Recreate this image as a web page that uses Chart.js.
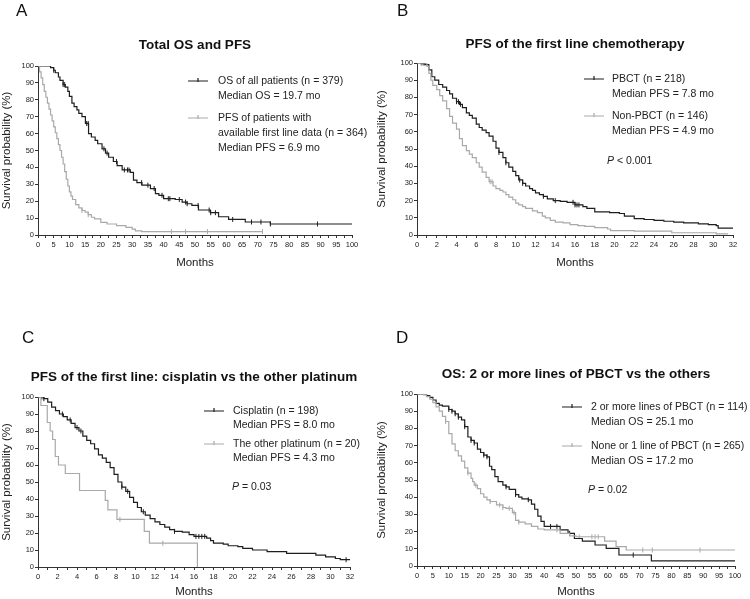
<!DOCTYPE html>
<html>
<head>
<meta charset="utf-8">
<script src="https://cdn.jsdelivr.net/npm/chart.js@4.4.1/dist/chart.umd.min.js"></script>
<style>
html,body{margin:0;padding:0;background:#fff;}
#wrap{position:relative;width:750px;height:599px;overflow:hidden;}
canvas{position:absolute;}
</style>
</head>
<body>
<div id="wrap">
  <canvas id="cA" width="375" height="300" style="left:0;top:0"></canvas>
  <canvas id="cB" width="375" height="300" style="left:375px;top:0"></canvas>
  <canvas id="cC" width="375" height="299" style="left:0;top:300px"></canvas>
  <canvas id="cD" width="375" height="299" style="left:375px;top:300px"></canvas>
</div>
<script>
"use strict"
// Kaplan-Meier curves: time (months) -> survival (%)

// A: total OS and PFS
var osAllT = [0, 4, 5, 5.5, 6.5, 7, 8, 8.7, 9.5, 10, 10.8, 11.5, 12.4, 13, 14, 15.1, 16.1, 17, 18.2, 19, 20.4, 21.5, 22.5, 24, 25.2, 26.8, 29.4, 30.4, 31.5, 33.1, 35.8, 37.4, 38.5, 40, 43.7, 45.9, 47.5, 49, 51.1, 54.9, 57.5, 60.7, 66, 74, 100];
var osAllS = [100, 99, 97.5, 96, 93.5, 91.5, 89, 87.5, 85, 82, 78, 76, 74, 72, 70, 66, 60, 58, 56, 54, 51, 48.5, 46, 43.5, 41, 38.5, 37, 32.5, 31, 29.5, 27.5, 24.5, 23.5, 21.5, 21, 19.5, 18.5, 17.5, 14.8, 13.2, 10.8, 9.2, 7.7, 6.5, 6.5];
var osAllCens = [5, 8, 8.5, 15.5, 16, 21, 22, 25, 27.5, 28.5, 29, 33, 35, 37, 39.5, 41.5, 42, 45, 47, 47.5, 51, 54.5, 55, 56.5, 62, 68, 71, 74, 89];
var pfsAllT = [0, 0.5, 1, 1.5, 2, 2.5, 3, 3.5, 4, 4.5, 5, 5.5, 6, 6.5, 7, 7.5, 8, 8.5, 9, 9.5, 10, 10.5, 11, 12, 13, 14, 15, 16, 17, 18, 20, 22, 25, 28, 30, 31, 33, 71.5];
var pfsAllS = [100, 96.5, 93, 89, 85, 81.5, 78, 74.5, 71, 67.5, 64, 60.5, 57, 53.5, 50, 46, 42, 37.5, 33, 29, 25.5, 23, 21, 18, 16, 14.5, 13.5, 12, 10.5, 9.5, 7.5, 6.5, 5.5, 4.5, 3.5, 2.5, 2, 2];
var pfsAllCens = [14, 16, 42.5, 47, 54, 71.5];

// B: PFS of first line, PBCT vs non-PBCT
var pbctT = [0, 0.8, 1.2, 1.5, 1.8, 2.2, 2.6, 3, 3.3, 3.6, 4, 4.3, 4.6, 5, 5.3, 5.6, 6, 6.3, 6.6, 7, 7.3, 7.7, 8, 8.3, 8.7, 9, 9.3, 9.7, 10, 10.3, 10.7, 11, 11.4, 11.7, 12, 12.4, 12.8, 13.2, 13.8, 14.5, 15.2, 16, 16.8, 17.2, 18, 19.5, 20.5, 21, 22, 23, 24, 25, 26, 27, 28.5, 29.5, 30.3, 30.5, 32];
var pbctS = [100, 99, 96, 92, 90, 87.5, 86, 84, 82, 79.5, 77.5, 76, 74, 71, 69.5, 68, 64.5, 62.5, 61, 59.5, 57.5, 54.5, 50.5, 48, 45, 42, 39.5, 37, 34.5, 32, 30, 28.5, 27, 26, 24.5, 23.5, 22.5, 21, 20, 19.5, 19, 17.5, 16.5, 15.5, 13.5, 13, 12.5, 11, 9.5, 9, 8.5, 8, 7.5, 7, 6.5, 6, 5.5, 4, 4];
var pbctCens = [0.5, 0.7, 4, 4.2, 4.4, 8.3, 9, 10.4, 10.7, 12.8, 14, 15.8, 16, 16.2, 16.4];
var nonPbctT = [0, 1, 1.2, 1.4, 1.6, 2, 2.3, 2.6, 3, 3.3, 3.6, 4, 4.3, 4.6, 5, 5.3, 5.6, 6, 6.3, 6.6, 7, 7.3, 7.7, 8, 8.4, 8.7, 9, 9.3, 9.7, 10, 10.3, 10.7, 11, 11.7, 12.2, 12.7, 13, 13.5, 14, 14.8, 15.5, 16.3, 17, 18, 19.3, 19.6, 22, 25.8, 30.3, 31.5];
var nonPbctS = [100, 98, 94, 90, 87, 84.5, 81, 78, 73.5, 69, 65, 61.5, 56, 52, 49, 47, 45, 42, 39.5, 36.5, 33.5, 31, 28.5, 27, 26, 25, 23.5, 22, 20.5, 18.5, 17.5, 16.5, 15.5, 14, 13, 11, 10, 8.5, 7.5, 7, 6, 5.4, 5, 4.3, 3.5, 2.5, 2.2, 1.3, 0.6, 0.6];
var nonPbctCens = [0.4, 7.4, 7.6];

// C: cisplatin vs the other platinum
var cisT = [0, 0.6, 1, 1.4, 1.8, 2.2, 2.6, 3, 3.4, 3.8, 4.2, 4.6, 5, 5.4, 5.8, 6.2, 6.6, 7, 7.4, 7.8, 8.2, 8.6, 9, 9.4, 9.8, 10.2, 10.6, 11, 11.5, 12, 12.5, 13, 13.5, 14, 14.8, 15.5, 16, 17.3, 17.7, 18, 19, 19.5, 20.5, 21, 22, 23.5, 25.5, 28.5, 29.5, 30.5, 31, 32];
var cisS = [100, 99, 97, 94, 92, 90, 88.5, 86.5, 84.5, 82, 80, 77, 74.5, 72.5, 69.5, 66, 64, 61.5, 58.5, 54.5, 50, 47, 44.5, 41, 38, 35, 32.5, 30.5, 28.5, 26.5, 25, 23.5, 22, 21, 20.5, 19, 18, 17, 15.5, 14, 13.5, 12.5, 12, 11, 10, 9, 8, 7, 6, 5, 4.3, 4.3];
var cisCens = [0.4, 0.6, 2.5, 3.3, 4, 4.4, 8.6, 9.2, 10.8, 14, 16.2, 16.5, 16.8, 17.1, 31.6];
var otherPtT = [0, 0.3, 0.95, 1.25, 1.5, 1.77, 2.1, 2.8, 4.26, 6.9, 7.17, 8.1, 10.9, 11.43, 16.35];
var otherPtS = [100, 95, 85, 80, 75, 65, 60, 55, 45, 39.2, 33.6, 28, 21, 14, 0];
var otherPtCens = [8.4, 12.8];

// D: OS, 2 or more lines of PBCT vs the others
var twoPlusT = [0, 3, 4, 5, 6, 7, 8, 10, 11, 12, 13, 14, 15, 16, 17, 18, 19, 20, 21, 22, 22.8, 23.5, 24.5, 25.5, 27, 28, 29, 31, 32, 33, 35, 36, 37, 38, 39, 40, 45, 47.5, 49.5, 52, 56, 59.5, 63.5, 73.7, 100];
var twoPlusS = [100, 99, 98, 96.5, 94.5, 93.5, 93, 91, 90, 88.5, 86.5, 85, 81, 75, 73, 71.5, 68, 66, 64.5, 63.5, 58, 56, 52, 49, 47, 46, 44.5, 41.5, 40, 39, 38.5, 36, 33, 29, 26, 23, 21, 19, 16, 14.5, 12.2, 10.3, 6.4, 3, 3];
var twoPlusCens = [10, 11, 12, 13, 15, 17, 18, 21, 22, 28, 31, 35, 42, 44, 48, 68];
var noneOneT = [0, 2, 3, 4, 5, 6, 7, 8, 9, 10, 11, 12, 13, 14, 15, 16, 17, 17.5, 18, 19, 20, 21, 22, 23, 25, 27, 28, 30, 31, 32, 34, 36, 38, 40, 45, 48, 50, 59, 62.6, 65.8, 100];
var noneOneS = [100, 99.5, 98.5, 97, 95, 92.5, 90, 87, 84, 77, 71, 67, 64, 61, 57, 54, 51, 49, 47, 45, 42, 40, 38.5, 37.5, 35.5, 34, 33.5, 31, 26.5, 25.5, 24.5, 23, 21.5, 21, 19, 17.5, 17, 14.5, 11.3, 9.3, 9.3];
var noneOneCens = [9, 16, 18.5, 23, 26, 27, 29, 30.5, 32, 44, 51, 55, 56, 57, 71, 74, 89];

var BLACK = "#1e1e1e", GRAY = "#a9a9a9", AXIS = "#333";
var FONT = "'Liberation Sans', Arial, Helvetica, sans-serif";

function toPts(ts, ss) { return ts.map(function(t, i) { return {x: t, y: ss[i]}; }); }
function survAt(ts, ss, t) {//value of step curve at t
  var v = ss[0];
  for (var i = 0; i < ts.length; i++) { if (ts[i] <= t) v = ss[i]; }
  return v;
}
function censPts(ts, ss, cs) { return cs.map(function(t) { return {x: t, y: survAt(ts, ss, t)}; }); }

function curve(ts, ss, color) {
  return {data: toPts(ts, ss), stepped: "before", borderColor: color, borderWidth: 1.2, pointRadius: 0, fill: false};
}
function marks(ts, ss, cs, color) {
  return {data: censPts(ts, ss, cs), showLine: false, pointStyle: "line", pointRotation: 90,
    pointRadius: 2.5, pointBorderColor: color, pointBorderWidth: 1, borderColor: color};
}

// draws panel letter, title, legend and p value
var deco = {
  id: "deco",
  afterDraw: function(chart, args, o) {
    var ctx = chart.ctx, a = chart.chartArea;
    ctx.save();
    ctx.textBaseline = "middle";
    ctx.fillStyle = "#111";
    ctx.textAlign = "left";
    ctx.font = "17px " + FONT;
    ctx.fillText(o.letter, o.letterX, o.letterY);
    ctx.textAlign = "center";
    ctx.font = "bold 13.5px " + FONT;
    ctx.fillText(o.title, (a.left + a.right) / 2, o.titleY);
    ctx.textAlign = "left";
    ctx.font = "10.5px " + FONT;
    o.items.forEach(function(it) {
      ctx.strokeStyle = it.color;
      ctx.lineWidth = 1.2;
      ctx.beginPath();
      ctx.moveTo(o.sampleX, it.y); ctx.lineTo(o.sampleX + 20, it.y);
      ctx.moveTo(o.sampleX + 10, it.y - 3); ctx.lineTo(o.sampleX + 10, it.y + 1);
      ctx.stroke();
      ctx.fillStyle = "#222";
      it.lines.forEach(function(s, k) { ctx.fillText(s, o.textX, it.y + k * o.gap); });
    });
    if (o.p) {
      ctx.font = "italic 10.5px " + FONT;
      ctx.fillText("P", o.pX, o.pY);
      var w = ctx.measureText("P").width;
      ctx.font = "10.5px " + FONT;
      ctx.fillText(o.p, o.pX + w, o.pY);
    }
    ctx.restore();
  }
};

function kmChart(id, datasets, ax, dec) {
  var tickFont = {family: FONT, size: 7.5};
  var titleFont = {family: FONT, size: 11.5};
  return new Chart(document.getElementById(id), {
    type: "line",
    data: {datasets: datasets},
    options: {
      responsive: false,
      animation: false,
      layout: {padding: {left: 0, top: ax.top, right: ax.right, bottom: ax.bottom}},
      plugins: {legend: {display: false}, tooltip: {enabled: false}, deco: dec},
      scales: {
        x: {
          type: "linear", min: 0, max: ax.xmax,
          border: {color: AXIS, width: 1},
          grid: {drawOnChartArea: false, tickLength: 3, color: AXIS},
          ticks: {stepSize: ax.minor, autoSkip: false, maxRotation: 0, padding: 2, color: "#222", font: tickFont,
            callback: function(v) { return v % ax.major === 0 ? v : ""; }},
          title: {display: true, text: "Months", color: "#222", font: titleFont, padding: 0},
          afterFit: function(s) { s.height = ax.xh; }
        },
        y: {
          min: 0, max: 100,
          border: {color: AXIS, width: 1},
          grid: {drawOnChartArea: false, tickLength: 3, color: AXIS},
          ticks: {stepSize: 10, padding: 1, color: "#222", font: tickFont},
          title: {display: true, text: "Survival probability (%)", color: "#222", font: titleFont, padding: 0},
          afterFit: function(s) { s.width = ax.yw; }
        }
      }
    },
    plugins: [deco]
  });
}

kmChart("cA", [
  curve(pfsAllT, pfsAllS, GRAY), curve(osAllT, osAllS, BLACK),
  marks(pfsAllT, pfsAllS, pfsAllCens, GRAY), marks(osAllT, osAllS, osAllCens, BLACK)
], {xmax: 100, minor: 2.5, major: 5, top: 66, right: 23, bottom: 30, xh: 35, yw: 38}, {
  letter: "A", letterX: 16, letterY: 11, title: "Total OS and PFS", titleY: 45,
  sampleX: 188, textX: 218, gap: 15,
  items: [
    {color: BLACK, y: 81, lines: ["OS of all patients (n = 379)", "Median OS = 19.7 mo"]},
    {color: GRAY, y: 118, lines: ["PFS of patients with", "available first line data (n = 364)", "Median PFS = 6.9 mo"]}
  ]
});

kmChart("cB", [
  curve(nonPbctT, nonPbctS, GRAY), curve(pbctT, pbctS, BLACK),
  marks(nonPbctT, nonPbctS, nonPbctCens, GRAY), marks(pbctT, pbctS, pbctCens, BLACK)
], {xmax: 32, minor: 1, major: 2, top: 63, right: 17, bottom: 30, xh: 35, yw: 42}, {
  letter: "B", letterX: 22, letterY: 11, title: "PFS of the first line chemotherapy", titleY: 44,
  sampleX: 209, textX: 237, gap: 15,
  items: [
    {color: BLACK, y: 79, lines: ["PBCT (n = 218)", "Median PFS = 7.8 mo"]},
    {color: GRAY, y: 116, lines: ["Non-PBCT (n = 146)", "Median PFS = 4.9 mo"]}
  ],
  p: " < 0.001", pX: 232, pY: 161
});

kmChart("cC", [
  curve(otherPtT, otherPtS, GRAY), curve(cisT, cisS, BLACK),
  marks(otherPtT, otherPtS, otherPtCens, GRAY), marks(cisT, cisS, cisCens, BLACK)
], {xmax: 32, minor: 1, major: 2, top: 97, right: 25, bottom: 0, xh: 32, yw: 38}, {
  letter: "C", letterX: 22, letterY: 38, title: "PFS of the first line: cisplatin vs the other platinum", titleY: 77,
  sampleX: 204, textX: 233, gap: 14.5,
  items: [
    {color: BLACK, y: 111, lines: ["Cisplatin (n = 198)", "Median PFS = 8.0 mo"]},
    {color: GRAY, y: 144, lines: ["The other platinum (n = 20)", "Median PFS = 4.3 mo"]}
  ],
  p: " = 0.03", pX: 232, pY: 187
});

kmChart("cD", [
  curve(noneOneT, noneOneS, GRAY), curve(twoPlusT, twoPlusS, BLACK),
  marks(noneOneT, noneOneS, noneOneCens, GRAY), marks(twoPlusT, twoPlusS, twoPlusCens, BLACK)
], {xmax: 100, minor: 2.5, major: 5, top: 94, right: 15, bottom: 0, xh: 33, yw: 42}, {
  letter: "D", letterX: 21, letterY: 38, title: "OS: 2 or more lines of PBCT vs the others", titleY: 74,
  sampleX: 187, textX: 216, gap: 15,
  items: [
    {color: BLACK, y: 107, lines: ["2 or more lines of PBCT (n = 114)", "Median OS = 25.1 mo"]},
    {color: GRAY, y: 146, lines: ["None or 1 line of PBCT (n = 265)", "Median OS = 17.2 mo"]}
  ],
  p: " = 0.02", pX: 213, pY: 190
});
</script>
</body>
</html>
